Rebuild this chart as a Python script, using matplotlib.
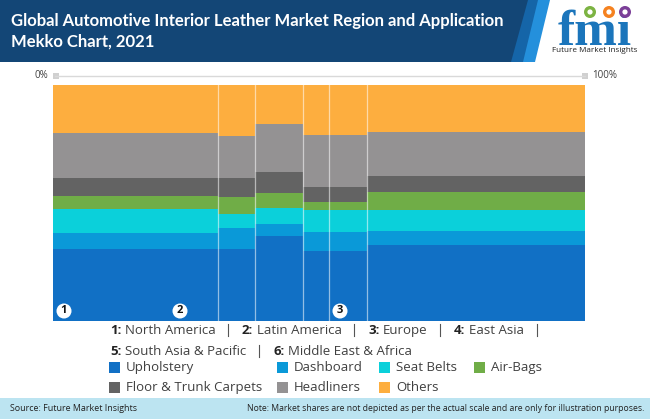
import matplotlib
matplotlib.use("Agg")
import matplotlib.pyplot as plt
from matplotlib.patches import Polygon, Rectangle, Circle
import numpy as np

plt.rcParams['font.family'] = ['Open Sans', 'DejaVu Sans']

# column widths (% of market)
widths = [31.0, 7.05, 9.0, 4.9, 7.05, 41.0]

segments = ["Upholstery", "Dashboard", "Seat Belts", "Air-Bags",
            "Floor & Trunk Carpets", "Headliners", "Others"]
colors = ["#1170C5", "#0A99D8", "#0BD0DA", "#70AD47", "#636363", "#949293", "#FDAE3F"]

upholstery = [30.4, 30.4, 36.2, 29.5, 29.5, 32.2]
dashboard = [6.9, 8.9, 4.9, 8.2, 8.2, 5.9]
seat_belts = [10.2, 5.9, 6.8, 9.2, 9.2, 9.0]
air_bags = [5.6, 7.2, 6.4, 3.5, 3.5, 7.5]
floor_carpets = [7.3, 8.3, 8.8, 6.2, 6.2, 6.8]
headliners = [19.1, 17.7, 20.5, 22.2, 22.2, 18.5]
others = [20.5, 21.6, 16.5, 21.2, 21.2, 20.1]
series = [upholstery, dashboard, seat_belts, air_bags, floor_carpets, headliners, others]

fig = plt.figure(figsize=(6.5, 4.19), dpi=100)

# overlay in pixel coords for header, legend, footer
bg = fig.add_axes([0, 0, 1, 1], zorder=0)
bg.set_xlim(0, 650)
bg.set_ylim(419, 0)
bg.axis('off')

bg.add_patch(Polygon([[0, 0], [550, 0], [535, 62], [0, 62]], color="#2490DC", lw=0))
bg.add_patch(Polygon([[0, 0], [538, 0], [523, 62], [0, 62]], color="#1565A8", lw=0))
bg.add_patch(Polygon([[0, 0], [528, 0], [511, 62], [0, 62]], color="#134676", lw=0))
bg.text(11, 21, "Global Automotive Interior Leather Market Region and Application",
        color="white", fontsize=12, fontweight='bold', family='Lato', va='center')
bg.text(11, 42, "Mekko Chart, 2021", color="white", fontsize=12, fontweight='bold',
        family='Lato', va='center')

# logo
bg.text(595, 45, "fmi", color="#1B75BB", fontsize=37, fontweight='bold',
        family='Liberation Serif', ha='center', va='baseline')
for yy in [25, 30, 35, 40]:
    bg.plot([553, 640], [yy, yy], color="white", lw=0.5)
for cx, c in zip([590, 609, 625], ["#7CB342", "#F58220", "#7B3F98"]):
    bg.add_patch(Circle((cx, 12), 6, color=c, lw=0, zorder=4))
    bg.add_patch(Circle((cx, 12), 2.6, color="white", lw=0, zorder=5))
bg.text(595, 50, "Future Market Insights", color="#222222", fontsize=5.9, ha='center', va='center')

# scale rule above the plot
bg.plot([55, 585], [76, 76], color="#D9D9D9", lw=1)
bg.add_patch(Rectangle((52.5, 73), 6, 6, color="#D0D0D0", lw=0))
bg.add_patch(Rectangle((582, 73), 6, 6, color="#D0D0D0", lw=0))
bg.text(48, 76, "0%", fontsize=7, color="#404040", ha='right', va='center')
bg.text(592, 76, "100%", fontsize=7, color="#404040", ha='left', va='center')

# mekko
ax = fig.add_axes([52.7 / 650, 1 - 321 / 419, 532.6 / 650, 236 / 419], zorder=1)
edges = np.concatenate([[0], np.cumsum(widths)])
bottom = np.zeros(len(widths))
for vals, name, c in zip(series, segments, colors):
    ax.bar(edges[:-1], vals, width=widths, bottom=bottom, align='edge', color=c, lw=0, label=name)
    bottom += np.array(vals)
for e in edges[1:-1]:
    ax.axvline(e, color="white", lw=0.9, alpha=0.55)
ax.set_xlim(0, edges[-1])
ax.set_ylim(0, 100)
ax.axis('off')

# region markers
fg = fig.add_axes([0, 0, 1, 1], zorder=2)
fg.set_xlim(0, 650)
fg.set_ylim(419, 0)
fg.axis('off')
for cx, num in zip([64, 180, 340], ["1", "2", "3"]):
    fg.add_patch(Circle((cx, 311), 7.5, color="white", lw=0))
    fg.text(cx, 310.6, num, fontsize=8, fontweight='bold', color="#111111", ha='center', va='center')

# region legend
txt = "#404040"
row1 = [(110, "1:", 125, "North America", 228), (242, "2:", 257, "Latin America", 354),
        (368, "3:", 383, "Europe", 440), (454, "4:", 469, "East Asia", 537)]
row2 = [(110, "5:", 125, "South Asia & Pacific", 259), (273, "6:", 288, "Middle East & Africa", None)]
for y, row in zip([330, 351], [row1, row2]):
    for bx, b, tx, t, px in row:
        bg.text(bx, y, b, fontsize=9.5, fontweight='bold', color="#222222", va='center')
        bg.text(tx, y, t, fontsize=9.5, color=txt, va='center')
        if px:
            bg.plot([px, px], [y - 6, y + 6], color="#555555", lw=0.8)

# segment legend
pos = [(109, 367), (277, 367), (379, 367), (474, 367), (109, 387), (277, 387), (379, 387)]
for (x, y), name, c in zip(pos, segments, colors):
    bg.add_patch(Rectangle((x, y - 5.5), 11, 11, color=c, lw=0))
    bg.text(x + 17, y, name, fontsize=9.5, color=txt, va='center')

# footer
bg.add_patch(Rectangle((0, 398), 650, 21, color="#BCE4F1", lw=0))
bg.text(10, 408, "Source: Future Market Insights", fontsize=6.4, color="#222222", va='center')
bg.text(644, 408, "Note: Market shares are not depicted as per the actual scale and are only for illustration purposes.",
        fontsize=6.2, color="#222222", ha='right', va='center')

fig.savefig("out.png", dpi=100)
